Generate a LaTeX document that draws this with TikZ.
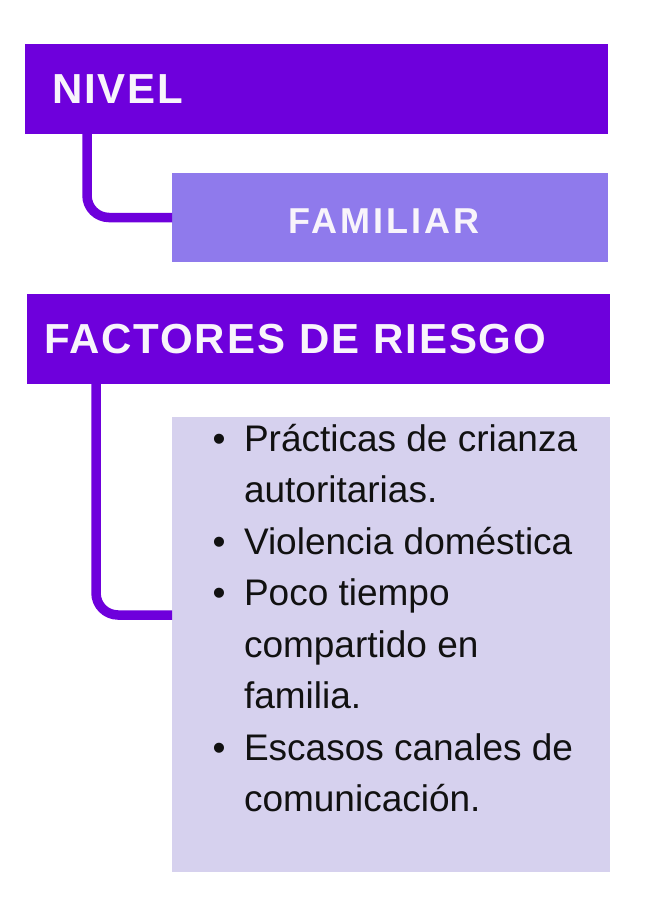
\documentclass[tikz,border=0pt]{standalone}
\usepackage{fontspec}
\setmainfont{Liberation Sans}
\newfontfamily\headfont[LetterSpace=4.5]{Liberation Sans}

\definecolor{violeta}{HTML}{6E00DC}
\definecolor{lavanda}{HTML}{8F7AEC}
\definecolor{lila}{HTML}{D6D1EE}
\definecolor{blanco}{HTML}{F8F4FB}
\definecolor{tinta}{HTML}{111111}

\tikzset{
  caja/.style={anchor=north west, inner sep=0pt, outer sep=0pt, text=blanco},
  titulo/.style={caja, fill=violeta, minimum height=90pt, align=left,
    font=\headfont\bfseries\fontsize{42}{42}\selectfont},
  enlace/.style={draw=violeta, line width=9.5pt, rounded corners=22pt},
}

\begin{document}
\begin{tikzpicture}[x=1pt,y=-1pt]
\useasboundingbox (0,0) rectangle (650,900);

\node[titulo, inner xsep=27pt, text width=529pt] (nivel) at (25,44) {NIVEL};
\node[caja, fill=lavanda, minimum width=436pt, minimum height=89pt,
  text height=31.8pt, text depth=0pt,
  font=\headfont\bfseries\fontsize{36}{36}\selectfont\addfontfeature{LetterSpace=8}] (familiar) at (172,173) {FAMILIAR\kern12pt};

\node[titulo, inner xsep=17pt, text width=549pt] (factores) at (27,294) {FACTORES DE RIESGO};
\node[caja, fill=lila, text=tinta, font=\fontsize{37}{51.5}\selectfont] (riesgos) at (172,417) {%
  \begin{minipage}[t][455pt][t]{438pt}\raggedright
  \begin{list}{\textbullet}{\setlength\leftmargin{72pt}\setlength\labelwidth{20pt}%
    \setlength\labelsep{18.5pt}\setlength\itemsep{0pt}\setlength\parsep{0pt}%
    \setlength\topsep{0pt}}
  \item \rule{0pt}{34pt}Prácticas de crianza\\ autoritarias.
  \item Violencia doméstica
  \item Poco tiempo\\ compartido en\\ familia.
  \item Escasos canales de\\ comunicación.
  \end{list}
  \end{minipage}};

\draw[enlace] ([xshift=62pt]nivel.south west) |- (familiar.west);
\draw[enlace] ([xshift=69pt]factores.south west) |- ([yshift=29.5pt]riesgos.west);
\end{tikzpicture}
\end{document}
